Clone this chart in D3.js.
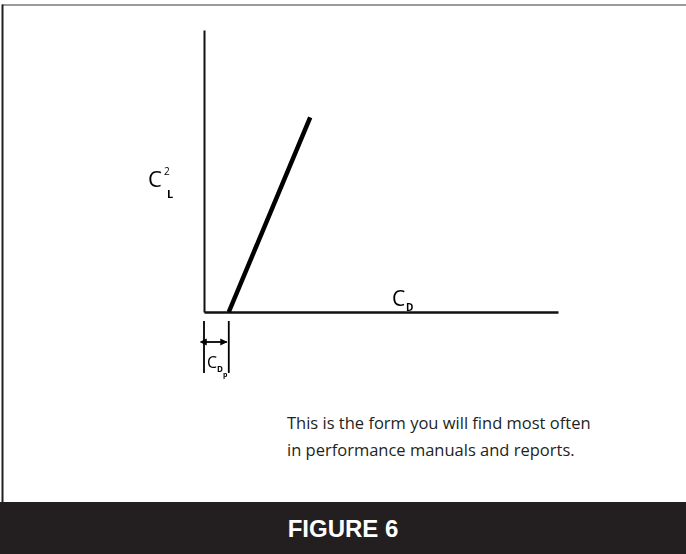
<!DOCTYPE html>
<html>
<head>
<meta charset="utf-8">
<script src="https://cdn.jsdelivr.net/npm/d3@7"></script>
<style>
  html, body { margin: 0; padding: 0; background: #fff; }
  svg { display: block; }
</style>
</head>
<body>
<svg id="chart" width="686" height="554"></svg>
<script>
// Drag polar: C_L^2 plotted against C_D is a straight line starting at C_Dp
const parasiteDrag = 0.07;               // C_Dp, where the line meets the C_D axis
const polarCD = [parasiteDrag, 0.30];    // C_D values at the ends of the line
const polarCL2 = [0, 0.69];              // C_L^2 values at the ends of the line
const captionLines = [
  "This is the form you will find most often",
  "in performance manuals and reports."
];
const figureTitle = "FIGURE 6";

const svg = d3.select("#chart");
const W = 686, H = 554;
const font = "'Open Sans', 'Noto Sans', sans-serif";

const defs = svg.append("defs");
// keeps the small symbol glyphs neutral grey/black when rasterised
defs.append("filter").attr("id", "mono")
  .attr("x", "-20%").attr("y", "-20%").attr("width", "140%").attr("height", "140%")
  .append("feColorMatrix").attr("type", "saturate").attr("values", 0);

// frame
svg.append("line").attr("x1", 2).attr("x2", W).attr("y1", 5).attr("y2", 5)
  .attr("stroke", "#7a7a7a").attr("stroke-width", 1.5);
svg.append("line").attr("x1", 2.5).attr("x2", 2.5).attr("y1", 4.5).attr("y2", H)
  .attr("stroke", "#231f20").attr("stroke-width", 2);

// scales
const x = d3.scaleLinear().domain([0, 1]).range([204, 558]);
const y = d3.scaleLinear().domain([0, 1]).range([312, 30]);

// axes (plain lines, no ticks)
const axisY = d3.axisLeft(y).tickValues([]).tickSizeOuter(0);
const axisX = d3.axisBottom(x).tickValues([]).tickSizeOuter(0);
svg.append("g").attr("transform", `translate(${x(0)},0)`).call(axisY)
  .select(".domain").attr("stroke", "#111").attr("stroke-width", 2);
svg.append("g").attr("transform", `translate(0,${y(0)})`).call(axisX)
  .select(".domain").attr("stroke", "#111").attr("stroke-width", 2.5);

// the polar line
const pts = polarCD.map((cd, i) => [cd, polarCL2[i]]);
svg.append("path").datum(pts)
  .attr("d", d3.line().x(d => x(d[0])).y(d => y(d[1])))
  .attr("fill", "none").attr("stroke", "#000").attr("stroke-width", 4.5);

// C_Dp bracket with double arrow
["start", "end"].forEach(k => {
  defs.append("marker").attr("id", "arr-" + k)
    .attr("viewBox", "0 0 10 10").attr("refX", k === "end" ? 9 : 1).attr("refY", 5)
    .attr("markerWidth", 4).attr("markerHeight", 4).attr("orient", "auto-start-reverse")
    .append("path").attr("d", "M0,0 L10,5 L0,10 z").attr("fill", "#000");
});
[0, parasiteDrag].forEach(v => {
  svg.append("line").attr("x1", x(v)).attr("x2", x(v)).attr("y1", 321).attr("y2", 373)
    .attr("stroke", "#000").attr("stroke-width", 1.8);
});
svg.append("line").attr("x1", x(0) + 2).attr("x2", x(parasiteDrag) - 2)
  .attr("y1", 342).attr("y2", 342)
  .attr("stroke", "#000").attr("stroke-width", 1.8)
  .attr("marker-start", "url(#arr-start)").attr("marker-end", "url(#arr-end)");

// axis symbols: each glyph is its own text element
const symG = svg.append("g").attr("filter", "url(#mono)");
function glyph(t, gx, gy, size, weight) {
  symG.append("text").attr("x", gx).attr("y", gy)
    .attr("font-family", font).attr("font-size", size)
    .attr("font-weight", weight || "normal").attr("fill", "#000").text(t);
}
// C_L^2
glyph("C", 148, 187, 22);
glyph("2", 164, 175, 10);
glyph("L", 167, 198, 11, 700);
// C_D
glyph("C", 392, 306, 21);
glyph("D", 406, 311, 10, 700);
// C_Dp
glyph("C", 207, 368, 16);
glyph("D", 217, 372, 8, 700);
glyph("p", 223, 377, 7, 700);

// caption
svg.append("g").selectAll("text").data(captionLines).join("text")
  .attr("x", 287).attr("y", (d, i) => 429 + i * 27)
  .attr("font-family", font).attr("font-size", 16.5).attr("fill", "#231f20")
  .text(d => d);

// footer bar
svg.append("rect").attr("x", 0).attr("y", 502).attr("width", W).attr("height", H - 502)
  .attr("fill", "#231f20");
svg.append("text").attr("x", 343).attr("y", 537).attr("text-anchor", "middle")
  .attr("font-family", "'Liberation Sans', Arial, sans-serif").attr("font-weight", "bold")
  .attr("font-size", 24).attr("fill", "#fff").text(figureTitle);
</script>
</body>
</html>
